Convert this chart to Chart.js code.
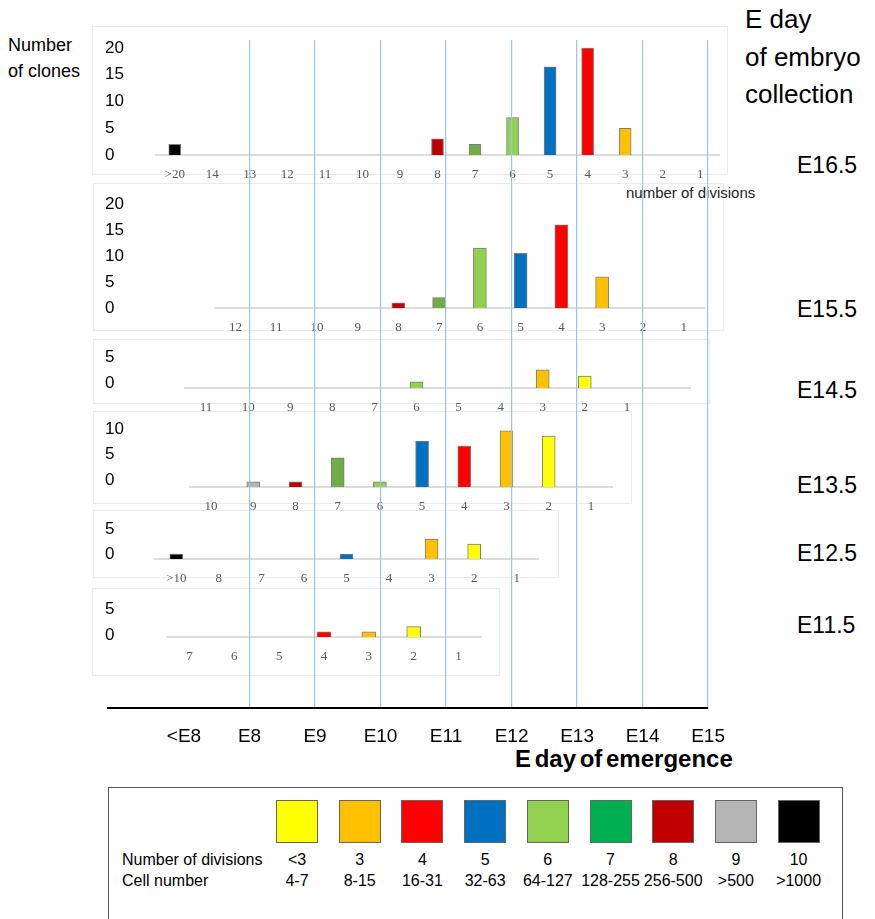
<!DOCTYPE html>
<html>
<head>
<meta charset="utf-8">
<script src="https://cdn.jsdelivr.net/npm/chart.js@4.4.1/dist/chart.umd.min.js"></script>
<style>
  body { margin: 0; background: #fff; width: 875px; height: 919px; position: relative; overflow: hidden; font-family: 'Liberation Sans', Arial, sans-serif; }
  .txt { position: absolute; white-space: nowrap; color: #000; }
  .frame { position: absolute; border: 1px solid #ebebeb; }
  canvas { position: absolute; }
  #legendBox { position: absolute; left: 108px; top: 787px; width: 733px; height: 160px; border: 1.5px solid #555; }
  .sw { position: absolute; top: 12px; width: 42px; height: 43px; border: 1px solid #666; box-sizing: border-box; }
  .lg { position: absolute; font-size: 16px; text-align: center; width: 70px; }
</style>
</head>
<body>

<!-- faint panel frames -->
<div class="frame" style="left:92px;top:26px;width:634px;height:147px"></div>
<div class="frame" style="left:93px;top:183px;width:629px;height:146px"></div>
<div class="frame" style="left:93px;top:339px;width:615px;height:63px"></div>
<div class="frame" style="left:93px;top:411px;width:537px;height:91px"></div>
<div class="frame" style="left:93px;top:510px;width:464px;height:66px"></div>
<div class="frame" style="left:92px;top:588px;width:406px;height:86px"></div>

<div class="txt" style="left:8px;top:35px;font-size:18px">Number</div>
<div class="txt" style="left:8px;top:61px;font-size:18px">of clones</div>

<div class="txt" style="left:745px;top:4px;font-size:26px">E day</div>
<div class="txt" style="left:745px;top:42px;font-size:26px">of embryo</div>
<div class="txt" style="left:745px;top:79px;font-size:26px">collection</div>

<div class="txt" style="left:797px;top:152px;font-size:23px">E16.5</div>
<div class="txt" style="left:797px;top:296px;font-size:23px">E15.5</div>
<div class="txt" style="left:797px;top:377px;font-size:23px">E14.5</div>
<div class="txt" style="left:797px;top:472px;font-size:23px">E13.5</div>
<div class="txt" style="left:797px;top:540px;font-size:23px">E12.5</div>
<div class="txt" style="left:797px;top:612px;font-size:23px">E11.5</div>

<div class="txt" style="left:626px;top:184px;font-size:15px;color:#222">number of divisions</div>
<div class="txt" style="left:515px;top:745px;font-size:24px;font-weight:bold;word-spacing:-3px">E day of emergence</div>

<div id="legendBox"></div>

<script>
// number of clones per number of divisions, one panel per E day of collection
var catsE165 = ['>20', '14', '13', '12', '11', '10', '9', '8', '7', '6', '5', '4', '3', '2', '1'];
var clonesE165 = [2, null, null, null, null, null, null, 3, 2, 7, 16.5, 20, 5, null, null];

var catsE155 = ['12', '11', '10', '9', '8', '7', '6', '5', '4', '3', '2', '1'];
var clonesE155 = [null, null, null, null, 1, 2, 11.5, 10.5, 16, 6, null, null];

var catsE145 = ['11', '10', '9', '8', '7', '6', '5', '4', '3', '2', '1', ''];
var clonesE145 = [null, null, null, null, null, 1.2, null, null, 3.5, 2.3, null, null];

var catsE135 = ['10', '9', '8', '7', '6', '5', '4', '3', '2', '1'];
var clonesE135 = [null, 1, 1, 5.7, 1, 9, 8, 11, 10, null];

var catsE125 = ['>10', '8', '7', '6', '5', '4', '3', '2', '1'];
var clonesE125 = [1, null, null, null, 1, null, 4, 3, null];

var catsE115 = ['7', '6', '5', '4', '3', '2', '1'];
var clonesE115 = [null, null, null, 1, 1, 2, null];

var emergenceLabels = ['<E8', 'E8', 'E9', 'E10', 'E11', 'E12', 'E13', 'E14', 'E15'];

var divisionLabels = ['<3', '3', '4', '5', '6', '7', '8', '9', '10'];
var cellNumbers = ['4-7', '8-15', '16-31', '32-63', '64-127', '128-255', '256-500', '>500', '>1000'];
var legendColors = ['#FFFF00', '#FFC000', '#FF0000', '#0070C0', '#92D050', '#00B050', '#C00000', '#B4B4B4', '#000000'];

function barColor(label) {
  if (label.charAt(0) === '>') return '#000000';
  var n = parseInt(label, 10);
  if (isNaN(n)) return 'rgba(0,0,0,0)';
  if (n <= 2) return legendColors[0];
  if (n === 7) return '#70AD47'; // bars use the darker green
  if (n >= 10) return '#000000';
  return legendColors[n - 2];
}

function makePanel(cats, vals, p) {
  var padTop = 16, axisH = 32, left = 105;
  var cv = document.createElement('canvas');
  cv.width = p.catEnd - left + 6;
  cv.height = padTop + (p.baseY - p.topY) + axisH;
  cv.style.left = left + 'px';
  cv.style.top = (p.topY - padTop) + 'px';
  document.body.appendChild(cv);

  new Chart(cv, {
    type: 'bar',
    data: {
      labels: cats,
      datasets: [{
        data: vals,
        backgroundColor: cats.map(barColor),
        borderColor: 'rgba(40,40,40,0.6)',
        borderWidth: 1,
        barThickness: p.barW,
        clip: false
      }]
    },
    options: {
      responsive: false,
      animation: false,
      layout: { padding: { top: padTop, right: 6, left: 0, bottom: 0 } },
      plugins: { legend: { display: false }, tooltip: { enabled: false } },
      scales: {
        x: {
          grid: { display: false, drawTicks: false },
          border: { color: '#dcdcdc', width: 2 },
          ticks: { color: '#595959', font: { family: 'Liberation Serif', size: 13 }, padding: 12, autoSkip: false, maxRotation: 0 },
          afterFit: function (s) { s.height = axisH; }
        },
        y: {
          min: 0,
          max: p.yMax,
          grid: { display: false, drawTicks: false },
          border: { display: false },
          ticks: { stepSize: 5, crossAlign: 'far', labelOffset: p.lblOff || 0, color: '#000', font: { family: 'Liberation Sans', size: 17 }, padding: 0 },
          afterFit: function (s) { s.width = p.catStart - left; }
        }
      }
    }
  });
}

makePanel(catsE165, clonesE165, { catStart: 156, catEnd: 719, topY: 48, baseY: 155, yMax: 20, barW: 12 });
makePanel(catsE155, clonesE155, { catStart: 215, catEnd: 704, topY: 204, baseY: 308, yMax: 20, barW: 13 });
makePanel(catsE145, clonesE145, { catStart: 185, catEnd: 690, topY: 362, baseY: 388, yMax: 5, barW: 13, lblOff: -5 });
makePanel(catsE135, clonesE135, { catStart: 190, catEnd: 612, topY: 436, baseY: 487, yMax: 10, barW: 13, lblOff: -7 });
makePanel(catsE125, clonesE125, { catStart: 155, catEnd: 538, topY: 534, baseY: 559, yMax: 5, barW: 13, lblOff: -5 });
makePanel(catsE115, clonesE115, { catStart: 167, catEnd: 481, topY: 611, baseY: 637, yMax: 5, barW: 14, lblOff: -2 });

// E day of emergence axis, its blue guide lines run up through all panels
var ov = document.createElement('canvas');
ov.width = 642;
ov.height = 720;
ov.style.left = '100px';
ov.style.top = '30px';
ov.style.pointerEvents = 'none';
document.body.appendChild(ov);

new Chart(ov, {
  type: 'scatter',
  data: { datasets: [] },
  options: {
    responsive: false,
    animation: false,
    layout: { padding: { top: 10, left: 8, right: 30, bottom: 0 } },
    plugins: { legend: { display: false }, tooltip: { enabled: false } },
    scales: {
      x: {
        type: 'linear',
        min: 5.84,
        max: 15,
        afterBuildTicks: function (s) {
          s.ticks = emergenceLabels.map(function (l, i) { return { value: 7 + i }; });
        },
        grid: {
          drawTicks: false,
          lineWidth: 1.2,
          color: function (ctx) { return ctx.tick && ctx.tick.value === 7 ? 'rgba(0,0,0,0)' : '#9DC3E6'; }
        },
        border: { color: '#000', width: 2 },
        ticks: {
          color: '#000',
          font: { family: 'Liberation Sans', size: 19 },
          padding: 17,
          callback: function (v, i) { return emergenceLabels[i]; }
        },
        afterFit: function (s) { s.height = 42; }
      },
      y: { display: false, min: 0, max: 1 }
    }
  }
});

// colour key
var box = document.getElementById('legendBox');
var html = '<div class="lg" style="left:13px;top:63px;width:auto;text-align:left">Number of divisions</div>' +
           '<div class="lg" style="left:13px;top:84px;width:auto;text-align:left">Cell number</div>';
legendColors.forEach(function (c, i) {
  var x = 167 + i * 62.7;
  html += '<div class="sw" style="left:' + x + 'px;background:' + c + '"></div>';
  html += '<div class="lg" style="left:' + (x + 21 - 35) + 'px;top:63px">' + divisionLabels[i] + '</div>';
  html += '<div class="lg" style="left:' + (x + 21 - 35) + 'px;top:84px">' + cellNumbers[i].replace('>', '&gt;') + '</div>';
});
box.innerHTML = html;
</script>
</body>
</html>
